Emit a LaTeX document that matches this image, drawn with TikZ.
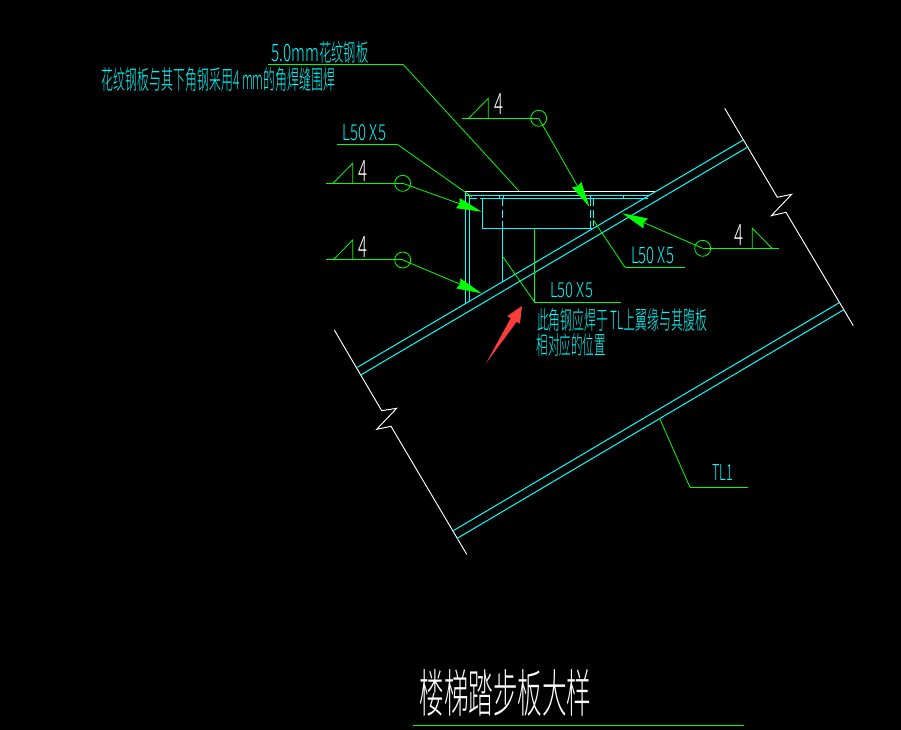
\documentclass[tikz,border=0pt]{standalone}
\usepackage{fontspec}
\usepackage{graphicx}
\newfontfamily\cjk{Noto Sans CJK SC Light}
\usetikzlibrary{arrows.meta}
\newdimen\pxu \pxu=.75pt
\newcommand\fitt[3]{\resizebox{#1\pxu}{#2\pxu}{#3}}
\definecolor{cadgreen}{RGB}{0,255,0}
\definecolor{cadcyan}{RGB}{0,255,255}
\definecolor{cadred}{RGB}{250,60,60}
\tikzset{
  x=.75pt,y=-.75pt,
  gline/.style={draw=cadgreen,line width=.75pt},
  gthin/.style={draw=cadgreen,line width=.6pt},
  cline/.style={draw=cadcyan,line width=.75pt},
  cdash/.style={draw=cadcyan,line width=.75pt,dash pattern=on 6pt off 2.5pt},
  wline/.style={draw=white,line width=.7pt},
  weldarrow/.style={gthin,-{Stealth[length=19pt,width=8pt,inset=1.5pt,fill=cadgreen]}},
  cadtext/.style={inner sep=0pt,outer sep=0pt,text=cadcyan,font=\cjk},
  weldnum/.style={inner sep=0pt,outer sep=0pt,text=white,font=\cjk},
  weldcircle/.style={circle,draw=cadgreen,line width=.6pt,minimum size=12pt,inner sep=0pt},
}
\begin{document}
\begin{tikzpicture}
\useasboundingbox (0,0) rectangle (901,730);
\fill[black] (0,0) rectangle (901,730);

% break lines
\draw[wline] (724.7,108.3) -- (777.3,197.3) -- (791.7,194.3) -- (771.3,215.7) -- (786,212.3) -- (853.3,325.7);
\draw[wline] (334.3,330) -- (381.7,410.7) -- (396.7,408.3) -- (376.7,429.3) -- (391,426.3) -- (466.7,554.3);

% beam flanges
\draw[cline] (357.3,367.3) -- (743.3,140);
\draw[cline] (360.7,375) -- (747.3,147.3);
\draw[cline] (453.3,530.7) -- (839.3,302.7);
\draw[cline] (457.3,538.3) -- (843.3,310);

% tread plate and angles
\draw[wline,line width=.9pt] (465.7,194) -- (465.7,191.7) -- (655,191.7);
\draw[cline] (465.7,192.5) -- (465.7,303.3);
\draw[cline] (469,195.3) -- (469,301.5);
\draw[cline] (465.7,195.3) -- (650,195.3);
\draw[cline] (482.3,198.3) -- (648,198.3);
\draw[cdash] (469,198.3) -- (482.3,198.3);
\draw[cline] (482.3,198.3) -- (482.3,228.3) -- (592,228.3);
\draw[cdash] (502.3,198.3) -- (502.3,228.3);
\draw[cline] (502.3,228.3) -- (502.3,281.7);
\draw[cdash] (590.3,198.3) -- (590.3,228.3);
\draw[cdash] (593.3,198.3) -- (593.3,226.5);
\draw[cline] (499.3,195.3) -- (499.3,198.3);
\draw[cline] (503,195.3) -- (503,198.3);
\draw[cline] (590.3,195.3) -- (590.3,198.3);
\draw[cline] (623,195.3) -- (623,198.3);

% text leaders
\draw[gline] (268,64.3) -- (403,64.3);
\draw[gthin] (403,64.3) -- (518.7,190.7);
\draw[gline] (337,144.3) -- (397.3,144.3);
\draw[gthin] (397.3,144.3) -- (471.7,196.7);
\draw[gline] (534.7,228.3) -- (534.7,302.3) -- (620.7,302.3);
\draw[gthin] (503.3,257.3) -- (534.7,302.3);
\draw[gline] (625,267.3) -- (685,267.3);
\draw[gthin] (593.3,220) -- (625,267.3);
\draw[gline] (690,487.3) -- (747.7,487.3);
\draw[gthin] (660,419.3) -- (690,487.3);

% weld symbols
\node[weldcircle] (wa) at (538.7,118.3) {};
\node[weldcircle] (wb) at (402.7,183.3) {};
\node[weldcircle] (wc) at (402.7,260) {};
\node[weldcircle] (wd) at (702.7,248.3) {};
\coordinate (wat) at (589.3,206.7);
\coordinate (wbt) at (481.7,211.7);
\coordinate (wct) at (481.7,293.3);
\coordinate (wdt) at (622.3,213.3);
\coordinate (was) at (462,118.3);
\coordinate (wbs) at (326,183.3);
\coordinate (wcs) at (326,260);
\coordinate (wds) at (779,248.3);
\draw[gline] (was) -- (wa.center);
\draw[gline] (wbs) -- (wb.center);
\draw[gline] (wcs) -- (wc.center);
\draw[gline] (wds) -- (wd.center);
\draw[weldarrow] (wa.center) -- (wat);
\draw[weldarrow] (wb.center) -- (wbt);
\draw[weldarrow] (wc.center) -- (wct);
\draw[weldarrow] (wd.center) -- (wdt);
\draw[gthin] (468.7,118.3) -- (488.3,98.3) -- (488.3,118.3);
\draw[gthin] (333,183.3) -- (352.7,163.3) -- (352.7,183.3);
\draw[gthin] (333,260) -- (352.7,240) -- (352.7,260);
\draw[gthin] (752.3,248.3) -- (752.3,228.3) -- (772,248.3);

\node[weldnum] (na) at (498.5,104.5) {\fitt{9}{21}{4}};
\node[weldnum] (nb) at (362.5,171) {\fitt{9}{21}{4}};
\node[weldnum] (nc) at (362.5,247) {\fitt{9}{21}{4}};
\node[weldnum] (nd) at (739,235) {\fitt{9}{21}{4}};

% red arrow
\fill[cadred] (486,363.3) -- (510.7,318.3) -- (507.3,316) -- (522,306) -- (520,323.5) -- (516.5,322) -- cycle;

% labels
\node[cadtext] (t1) at (320,52) {\fitt{97}{20}{\scalebox{1.25}[1]{5.0mm}花纹钢板}};
\node[cadtext] (t2) at (218.5,80) {\fitt{233}{22}{花纹钢板与其下角钢采用4 mm的角焊缝围焊}};
\node[cadtext] (t3) at (364.5,133) {\fitt{43}{16}{L50 X5}};
\node[cadtext] (t4) at (652.5,255) {\fitt{43}{16.5}{L50 X5}};
\node[cadtext] (t5) at (571.5,290.5) {\fitt{43}{15}{L50 X5}};
\node[cadtext] (t6) at (622,320.5) {\fitt{170}{21}{此角钢应焊于 TL上翼缘与其腹板}};
\node[cadtext] (t7) at (571,345) {\fitt{69}{21}{相对应的位置}};
\node[cadtext] (t8) at (722.5,473) {\fitt{21}{16}{TL1}};
\node[weldnum] (title) at (505.5,693) {\fitt{172}{43}{楼梯踏步板大样}};
\draw[gline] (413.3,725.3) -- (744,725.3);
\end{tikzpicture}
\end{document}
